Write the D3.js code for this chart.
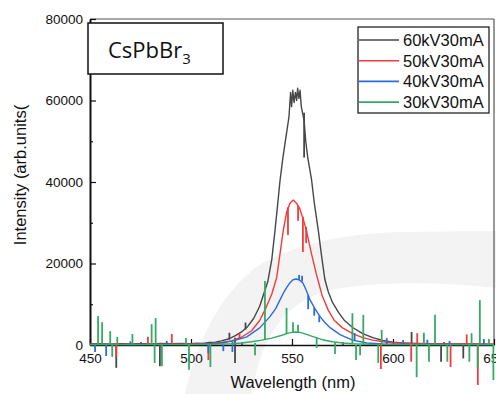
<!DOCTYPE html>
<html><head><meta charset="utf-8">
<script src="https://cdn.jsdelivr.net/npm/d3@7"></script>
<style>body{margin:0;background:#fff}svg{display:block}</style>
</head><body><svg id="c" width="496" height="394"></svg>
<script>
const seriesNames = ["60kV30mA","50kV30mA","40kV30mA","30kV30mA"];
const seriesColors = ["#474747","#f03c3c","#2b6dd8","#35aa66"];
const xTicks = [450,500,550,600,650];
const xMinor = [475,525,575,625];
const yTicks = [0,20000,40000,60000,80000];
const yMinor = [10000,30000,50000,70000];

const curve60 = [[450,250],[455,300],[460,200],[465,300],[470,250],[475,300],[480,250],[485,350],[490,300],[495,350],[500,300],[503,450],[506,400],[509,600],[512,700],[515,1000],[518,1400],[520,1800],[522,2300],[525,3200],[528,4500],[531,6500],[534,9500],[536,12500],[538,15500],[540,21000],[541.6,28200],[543,35000],[544.1,40500],[545.5,46000],[547,51000],[548.5,56000],[549.3,62000],[549.8,58500],[550.4,62500],[551,59500],[551.7,62000],[552.3,60000],[552.8,63000],[553.4,60500],[554,62500],[554.6,58500],[555.2,57000],[556,55000],[556.8,50000],[557.8,46000],[559.7,40500],[561,35000],[563,28200],[564.6,22000],[566.3,16000],[568,13000],[570,10500],[573,8000],[576,6000],[580,4300],[585,2800],[590,1800],[595,1100],[600,700],[605,500],[610,400],[620,300],[630,250],[640,250],[650,200]];
const curve50 = [[450,150],[460,200],[470,150],[480,200],[490,200],[500,250],[505,300],[510,400],[515,600],[520,1000],[525,1900],[530,3500],[534,6000],[537,9000],[540,12500],[542.4,16500],[544.1,22500],[545.7,28200],[547.4,32700],[549,34800],[550.6,35600],[552.2,34800],[553.8,33500],[555.5,31000],[557.1,28200],[559.6,22500],[562,17500],[565,12000],[568,8500],[571,6000],[575,4200],[580,2800],[585,1800],[590,1200],[595,800],[600,550],[610,350],[620,250],[650,200]];
const curve40 = [[450,100],[460,150],[470,100],[480,150],[490,150],[500,150],[510,300],[515,500],[521,1000],[527.6,2000],[534,4200],[539,6900],[542,9000],[544,11000],[546,13000],[547.5,14200],[549,15300],[550.5,16000],[552,16200],[553.5,16000],[555.4,15200],[557,13500],[559,11000],[561.5,8800],[564,6900],[566.5,5400],[569,4200],[574,2500],[580,1200],[587,500],[595,250],[610,150],[650,100]];
const curve30 = [[450,100],[500,100],[510,150],[520,300],[525,500],[530,800],[535,1200],[540,1700],[545,2400],[548,2900],[550,3100],[552,3200],[554,3100],[556,2800],[558,2500],[560,2100],[565,1300],[570,800],[575,500],[580,300],[590,150],[600,100],[650,100]];

// spikes: [wavelength, from, to]
const spikes60 = [[463,0,-5600],[484.6,0,-5200],[521.8,1800,-4400],[519,1300,3000],[527,3800,5500],[556,57000,46000],[609.2,300,3200],[623.8,0,-4100],[634.8,0,-3300]];
const spikes50 = [[463,0,-2900],[478.7,0,2000],[490.5,0,2700],[508.6,0,-3700],[524,1500,2900],[548,33800,27000],[553,34200,30500],[555.4,31500,22800],[557,29000,25000],[594,0,-5900],[609,0,-4100],[612,0,2900],[628.5,0,-5400],[636.5,0,2600],[642,0,-9800]];
const spikes40 = [[452.5,0,-1700],[458,0,-2700],[470,0,900],[488,0,1000],[508.6,0,-2000],[516,400,-1500],[520.5,800,-1700],[553.5,16000,17200],[555,15600,17000],[558,12200,8800],[561,9200,7200],[563.5,7200,5600],[581,1100,2900],[596.9,0,1700],[605,0,1200],[617,0,1300],[628,0,1000],[645,0,1500]];
const spikes30 = [[454,0,7100],[456,0,5600],[460,0,3400],[461,0,-2900],[463.5,0,2000],[471,0,2700],[480.5,0,5100],[482,0,-4400],[482.5,0,6600],[485.6,0,-5200],[497.5,0,1700],[499,0,-6100],[509.6,0,-5400],[531.7,500,-2500],[536.6,1200,15700],[547.3,2800,9100],[550.5,3100,5600],[553,3200,5000],[562.2,1800,-700],[571.3,700,-2200],[579.9,300,7800],[581.7,0,-3700],[583.7,0,-2500],[585.3,0,7400],[592.7,0,-4400],[594.4,0,3700],[611.7,0,-7900],[615.3,0,3000],[617.8,0,-4100],[620.8,0,7400],[626.9,0,-4100],[637.8,0,-4100],[638.9,0,2900],[641.9,0,-5600],[643,0,11000],[647.5,0,1500],[649.7,0,-8600]];

const curves = [curve60, curve50, curve40, curve30];
const spikes = [spikes60, spikes50, spikes40, spikes30];

const svg = d3.select("#c");
const x = d3.scaleLinear().domain([450,650]).range([90,494]);
const y = d3.scaleLinear().domain([0,80000]).range([345,19]);

// faint background watermark
svg.append("path")
  .attr("d","M185,394 C195,350 215,300 255,268 C290,245 340,234 400,232 L496,231 L496,288 C440,282 380,281 330,290 C290,300 262,330 252,394 Z")
  .attr("fill","#f3f3f3");

const font = "'Liberation Sans', Arial, sans-serif";

// frame top & right
svg.append("line").attr("x1",90).attr("x2",494).attr("y1",19).attr("y2",19).attr("stroke","#555").attr("stroke-width",1.2);
svg.append("line").attr("x1",494).attr("x2",494).attr("y1",19).attr("y2",345).attr("stroke","#555").attr("stroke-width",1.2);

// axes
const gy = svg.append("g").attr("transform","translate(90,0)")
  .call(d3.axisLeft(y).tickValues(yTicks).tickFormat(d3.format("d")).tickSizeInner(-6).tickSizeOuter(0).tickPadding(7));
svg.append("g").attr("transform","translate(90,0)")
  .call(d3.axisLeft(y).tickValues(yMinor).tickFormat("").tickSizeInner(-3).tickSizeOuter(0))
  .select(".domain").remove();
const gx = svg.append("g").attr("transform","translate(0,345)")
  .call(d3.axisBottom(x).tickValues(xTicks).tickFormat(d3.format("d")).tickSizeInner(-6).tickSizeOuter(0).tickPadding(8));
svg.append("g").attr("transform","translate(0,345)")
  .call(d3.axisBottom(x).tickValues(xMinor).tickFormat("").tickSizeInner(-3).tickSizeOuter(0))
  .select(".domain").remove();
svg.selectAll(".tick line").attr("stroke","#111").attr("stroke-width",1.2);
gy.select(".domain").attr("stroke","#111").attr("stroke-width",2);
gx.select(".domain").attr("stroke","#111").attr("stroke-width",1.5);
svg.selectAll(".tick text").attr("font-family",font).attr("font-size","13.5px").attr("fill","#111");

// data
const line = d3.line().x(d=>x(d[0])).y(d=>y(d[1]));
curves.forEach((c,i)=>{
  const g = svg.append("g");
  g.append("path").datum(c).attr("d",line).attr("fill","none")
    .attr("stroke",seriesColors[i]).attr("stroke-width",1.4).attr("stroke-linejoin","round");
  g.selectAll("line").data(spikes[i]).join("line")
    .attr("x1",d=>x(d[0])).attr("x2",d=>x(d[0]))
    .attr("y1",d=>y(d[1])).attr("y2",d=>y(d[2]))
    .attr("stroke",seriesColors[i]).attr("stroke-width",1.8);
});

// axis titles
svg.append("text").attr("x",293).attr("y",388).attr("text-anchor","middle")
  .attr("font-family",font).attr("font-size","16.5px").attr("fill","#111").text("Wavelength (nm)");
svg.append("text").attr("transform","translate(26,175) rotate(-90)").attr("text-anchor","middle")
  .attr("font-family",font).attr("font-size","16.5px").attr("fill","#111").text("Intensity (arb.units(");

// sample label box
svg.append("rect").attr("x",88).attr("y",23).attr("width",135).attr("height",51)
  .attr("fill","#fff").attr("stroke","#111").attr("stroke-width",1.5);
const lt = svg.append("text").attr("x",108).attr("y",58).attr("font-family","'Open Sans', sans-serif")
  .attr("font-size","22px").attr("fill","#111");
lt.append("tspan").text("CsPbBr");
lt.append("tspan").attr("dy",6).attr("font-size","15px").text("3");

// legend
const lg = svg.append("g");
lg.append("rect").attr("x",358).attr("y",27).attr("width",131).attr("height",86)
  .attr("fill","#fff").attr("stroke","#111").attr("stroke-width",1.2);
seriesNames.forEach((n,i)=>{
  const yy = 40 + i*20.7;
  lg.append("line").attr("x1",359).attr("x2",399).attr("y1",yy).attr("y2",yy)
    .attr("stroke",seriesColors[i]).attr("stroke-width",1.6);
  lg.append("text").attr("x",403).attr("y",yy+6).attr("font-family",font)
    .attr("font-size","16.5px").attr("fill","#111").text(n);
});
</script></body></html>
